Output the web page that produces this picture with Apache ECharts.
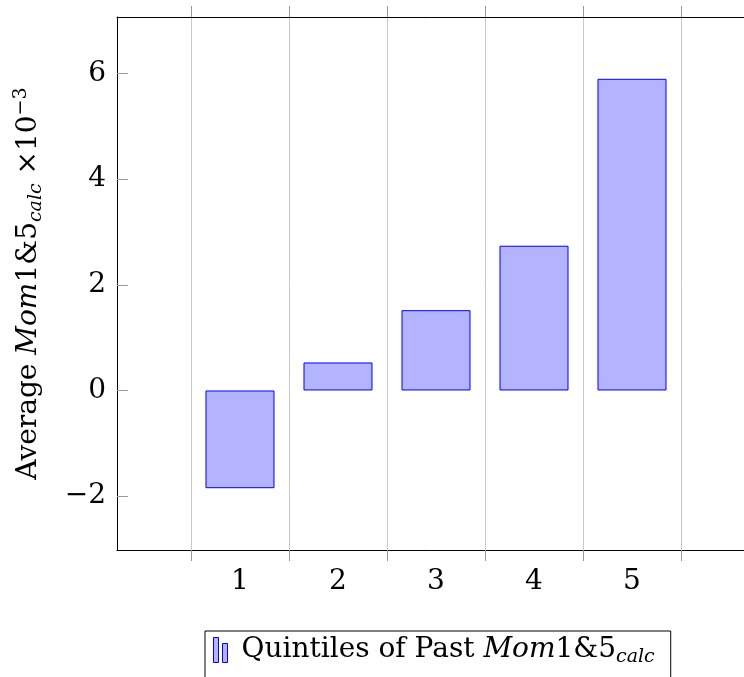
<!DOCTYPE html>
<html><head><meta charset="utf-8">
<script src="https://cdn.jsdelivr.net/npm/echarts@6/dist/echarts.min.js"></script>
<style>html,body{margin:0;padding:0;background:#fff}#c{width:744px;height:677px}</style>
</head><body><div id="c"></div>
<script>
const categories = [1, 2, 3, 4, 5];
const values = [-1.85, 0.53, 1.52, 2.74, 5.90];
const yTicks = [-2, 0, 2, 4, 6];
const xBoundaries = [0.5, 1.5, 2.5, 3.5, 4.5, 5.5];
const legendLabel = 'Quintiles of Past';

const FONT = "'DejaVu Serif', 'Liberation Serif', serif";
const FS = 28;
const TICKC = '#999999';
const GRIDC = '#c8c8c8';
const minus = v => String(v).replace('-', '\u2212');

const rich = {
  r: {fontFamily: FONT, fontSize: FS, lineHeight: 34, verticalAlign: 'middle', color: '#000'},
  i: {fontFamily: FONT, fontSize: FS, lineHeight: 34, fontStyle: 'italic', verticalAlign: 'middle', color: '#000'},
  s: {fontFamily: FONT, fontSize: 19, lineHeight: 16, fontStyle: 'italic', verticalAlign: 'bottom', color: '#000'},
  p: {fontFamily: FONT, fontSize: 19, lineHeight: 16, verticalAlign: 'top', color: '#000'},
  sp: {fontFamily: FONT, fontSize: FS, lineHeight: 34, width: 9}
};

const chart = echarts.init(document.getElementById('c'), null, {renderer: 'canvas'});
chart.setOption({
  animation: false,
  backgroundColor: '#fff',
  grid: {left: 117, top: 17, width: 638, height: 533, containLabel: false, outerBoundsMode: 'none'},
  xAxis: [{
    type: 'value', min: -0.255, max: 6.255, position: 'bottom',
    axisLine: {show: true, onZero: false, lineStyle: {color: '#000', width: 1}},
    axisTick: {show: true, inside: false, length: 11, customValues: xBoundaries, lineStyle: {color: TICKC, width: 1}},
    axisLabel: {show: true, customValues: categories, margin: 18, fontFamily: FONT, fontSize: FS, color: '#000'},
    splitLine: {show: true, lineStyle: {color: GRIDC, width: 1}}
  }, {
    type: 'value', min: -0.255, max: 6.255, position: 'top',
    axisLine: {show: true, onZero: false, lineStyle: {color: '#000', width: 1}},
    axisTick: {show: true, inside: false, length: 11, customValues: xBoundaries, lineStyle: {color: TICKC, width: 1}},
    axisLabel: {show: false},
    splitLine: {show: false}
  }],
  yAxis: [{
    type: 'value', min: -3.02, max: 7.07, position: 'left',
    axisLine: {show: true, onZero: false, lineStyle: {color: '#000', width: 1}},
    axisTick: {show: true, inside: true, length: 11, customValues: yTicks, lineStyle: {color: TICKC, width: 1}},
    axisLabel: {show: true, customValues: yTicks, margin: 11, formatter: minus, fontFamily: FONT, fontSize: FS, color: '#000'},
    splitLine: {show: false},
    name: '{r|Average }{i|Mom}{r|1&5}{s|calc}{r| ×10}{p|\u22123}',
    nameLocation: 'middle', nameRotate: 90, nameGap: 71,
    nameTextStyle: {rich: rich}
  }, {
    type: 'value', min: -3.02, max: 7.07, position: 'right',
    axisLine: {show: false, onZero: false},
    axisTick: {show: true, inside: true, length: 11, customValues: yTicks, lineStyle: {color: TICKC, width: 1}},
    axisLabel: {show: false},
    splitLine: {show: false}
  }],
  legend: {
    show: true, left: 205, top: 631, orient: 'horizontal',
    padding: [5, 16, 14, 8], borderColor: '#000', borderWidth: 1,
    itemWidth: 14, itemHeight: 25,
    icon: 'path://M0,0L5,0L5,25L0,25Z M9,6L14,6L14,25L9,25Z',
    itemStyle: {color: '#b3b3ff', borderColor: '#0000ff', borderWidth: 1},
    formatter: () => '{sp| }{r|' + legendLabel + ' }{i|Mom}{r|1&5}{s|calc}',
    textStyle: {rich: rich},
    data: ['q']
  },
  series: [{
    name: 'q', type: 'bar', xAxisIndex: 0, yAxisIndex: 0,
    barWidth: 69,
    data: values.map((v, i) => [categories[i], v]),
    itemStyle: {color: '#b3b3ff', borderColor: '#0000ff', borderWidth: 1}
  }]
});
</script></body></html>
